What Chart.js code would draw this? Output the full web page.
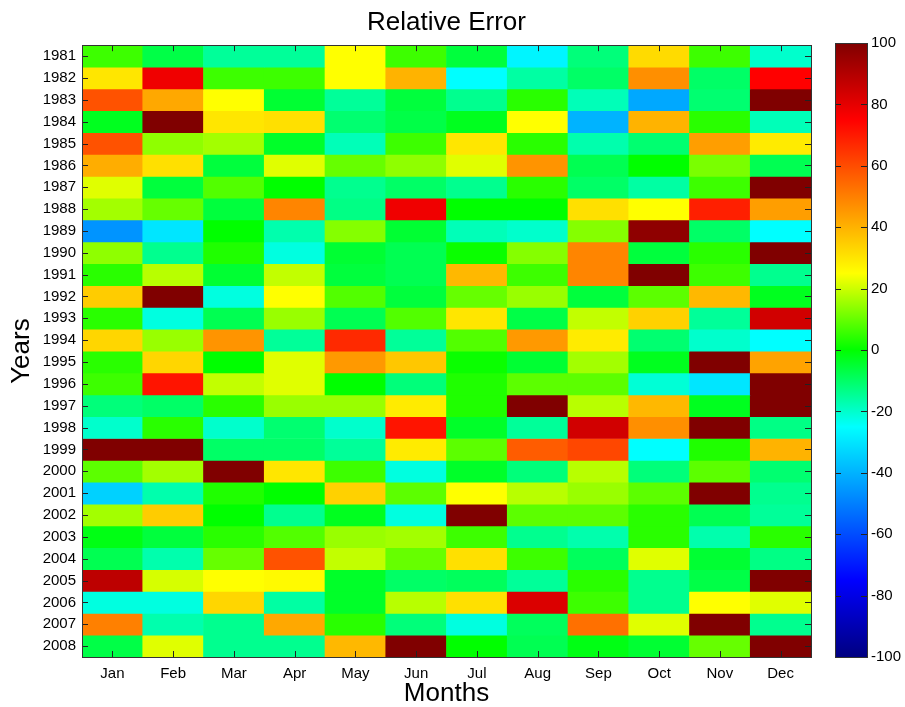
<!DOCTYPE html>
<html>
<head>
<meta charset="utf-8">
<script src="https://cdn.jsdelivr.net/npm/chart.js@4.4.0/dist/chart.umd.min.js"></script>
<style>
  body { margin: 0; background: #fff; }
  #wrap { position: relative; width: 905px; height: 707px; }
  #main { position: absolute; left: 0; top: 0; }
  #cbar { position: absolute; left: 830px; top: 0; }
</style>
</head>
<body>
<div id="wrap">
  <canvas id="main" width="830" height="707"></canvas>
  <canvas id="cbar" width="75" height="707"></canvas>
</div>
<script>
const months = ['Jan','Feb','Mar','Apr','May','Jun','Jul','Aug','Sep','Oct','Nov','Dec'];
const years = [];
for (let y = 1981; y <= 2008; y++) years.push(String(y));

// relative error per year (rows) and month (columns)
const errors = [
  [6,-7,-15,-15,25,6,-6,-27,-12,32,6,-20],      // 1981
  [30,78,6,6,25,40,-25,-16,-10,47,-10,75],      // 1982
  [59,42,25,-5,-15,-6,-14,4,-18,-42,-11,100],   // 1983
  [-3,100,30,31,-11,-7,-3,25,-40,40,4,-18],     // 1984
  [59,14,16,-4,-18,6,30,4,-17,-11,44,29],       // 1985
  [41,31,-6,22,10,14,22,46,-8,0,12,-8],         // 1986
  [22,-6,8,0,-14,-10,-14,4,-10,-16,6,100],      // 1987
  [16,10,-6,49,-13,78,0,0,31,25,69,44],         // 1988
  [-46,-30,0,-17,13,-5,-18,-20,13,97,-10,-25],  // 1989
  [14,-14,3,-22,-5,-8,1,13,49,-6,4,100],        // 1990
  [4,18,-5,19,-6,-8,39,6,49,100,6,-14],         // 1991
  [35,100,-22,25,8,-6,10,15,-6,9,39,-3],        // 1992
  [4,-22,-8,15,-8,8,30,-7,19,34,-15,84],        // 1993
  [33,15,46,-15,67,-15,8,45,29,-11,-20,-25],    // 1994
  [4,33,0,22,45,36,1,-5,16,-3,100,43],          // 1995
  [6,71,19,22,0,-12,3,9,9,-21,-30,100],         // 1996
  [-12,-10,4,15,15,29,3,100,18,39,-3,100],      // 1997
  [-20,4,-20,-11,-20,71,-4,-15,84,47,100,-13],  // 1998
  [100,100,-10,-10,-15,29,9,57,61,-25,3,40],    // 1999
  [9,16,100,30,6,-22,-4,-12,18,-12,9,-11],      // 2000
  [-34,-17,3,0,34,9,25,18,15,9,100,-14],        // 2001
  [16,35,0,-14,-3,-22,100,9,9,4,-8,-15],        // 2002
  [-2,-6,4,8,15,16,6,-14,-17,4,-17,4],          // 2003
  [-8,-17,10,59,19,10,31,6,-9,22,-5,-13],       // 2004
  [88,21,25,26,-4,-10,-9,-15,4,-14,-7,100],     // 2005
  [-22,-22,33,-16,-4,18,31,82,6,-14,25,22],     // 2006
  [50,-17,-14,42,4,-12,-22,-9,53,22,100,-14],   // 2007
  [-7,22,-14,-14,39,100,0,-8,-2,-5,10,100]      // 2008
];

const cbarTicks = [-100,-80,-60,-40,-20,0,20,40,60,80,100];

// jet-like map, green at 0
const cmap = [
  [-100, [0,0,128]],
  [-75,  [0,0,255]],
  [-25,  [0,255,255]],
  [0,    [0,255,0]],
  [25,   [255,255,0]],
  [75,   [255,0,0]],
  [100,  [128,0,0]]
];

function colorFor(v) {
  v = Math.max(-100, Math.min(100, v));
  for (let i = 0; i < cmap.length - 1; i++) {
    const [v0, c0] = cmap[i], [v1, c1] = cmap[i+1];
    if (v <= v1) {
      const t = (v - v0) / (v1 - v0);
      const c = c0.map((a, k) => Math.round(a + (c1[k] - a) * t));
      return 'rgb(' + c.join(',') + ')';
    }
  }
  return 'rgb(128,0,0)';
}

const font = 'Liberation Sans, Arial, Helvetica, sans-serif';

// one dataset per year, floating bar spanning its row
const datasets = years.map((yr, i) => ({
  label: yr,
  data: months.map(() => [i, i + 1]),
  backgroundColor: errors[i].map(colorFor),
  borderWidth: 0,
  grouped: false,
  barPercentage: 1,
  categoryPercentage: 1
}));

const boxPlugin = {
  id: 'box',
  afterDatasetsDraw(chart) {
    const {ctx, chartArea: a, scales} = chart;
    ctx.save();
    ctx.strokeStyle = '#222';
    ctx.lineWidth = 1;
    ctx.beginPath();
    years.forEach((yr, i) => {
      const y = Math.round(scales.y.getPixelForValue(i + 0.5)) + 0.5;
      ctx.moveTo(a.left, y); ctx.lineTo(a.left + 6, y);
      ctx.moveTo(a.right - 6, y); ctx.lineTo(a.right, y);
    });
    months.forEach((m, j) => {
      const x = Math.round(scales.x.getPixelForValue(j)) + 0.5;
      ctx.moveTo(x, a.top); ctx.lineTo(x, a.top + 6);
      ctx.moveTo(x, a.bottom - 6); ctx.lineTo(x, a.bottom);
    });
    ctx.stroke();
    ctx.strokeStyle = '#333';
    ctx.strokeRect(Math.round(a.left) + 0.5, Math.round(a.top) + 0.5,
      Math.round(a.right - a.left), Math.round(a.bottom - a.top));
    ctx.restore();
  }
};

new Chart(document.getElementById('main'), {
  type: 'bar',
  data: { labels: months, datasets: datasets },
  options: {
    responsive: false,
    animation: false,
    layout: { padding: { left: 0, right: 19, top: 0, bottom: 0 } },
    plugins: {
      legend: { display: false },
      tooltip: { enabled: false },
      title: {
        display: true,
        text: 'Relative Error',
        fullSize: false,
        color: '#000',
        font: { family: font, size: 26, weight: 'normal', lineHeight: 1.2 },
        padding: { top: 7, bottom: 7 }
      }
    },
    scales: {
      x: {
        grid: { display: false, drawTicks: false },
        border: { display: false },
        ticks: { color: '#000', font: { family: font, size: 15 }, padding: 8, maxRotation: 0 },
        title: { display: true, text: 'Months', color: '#000', font: { family: font, size: 26, lineHeight: 1 }, padding: { top: 0, bottom: 0 } },
        afterFit(scale) { scale.height = 50; }
      },
      y: {
        min: 0,
        max: 28,
        reverse: true,
        grid: { display: false, drawTicks: false },
        border: { display: false },
        afterBuildTicks(scale) {
          scale.ticks = years.map((yr, i) => ({ value: i + 0.5 }));
        },
        ticks: {
          autoSkip: false,
          color: '#000',
          font: { family: font, size: 15 },
          padding: 6,
          callback: (v) => years[Math.floor(v)]
        },
        title: { display: true, text: 'Years', color: '#000', font: { family: font, size: 26, lineHeight: 1 }, padding: { top: 9, bottom: 0 } },
        afterFit(scale) { scale.width = 82; }
      }
    }
  },
  plugins: [boxPlugin]
});

// colour bar
const cbarPlugin = {
  id: 'cbarBox',
  afterDatasetsDraw(chart) {
    const {ctx, chartArea: a, scales} = chart;
    ctx.save();
    ctx.strokeStyle = '#222';
    ctx.lineWidth = 1;
    ctx.beginPath();
    cbarTicks.forEach(v => {
      const y = Math.round(scales.y.getPixelForValue(v)) + 0.5;
      ctx.moveTo(a.left, y); ctx.lineTo(a.left + 6, y);
      ctx.moveTo(a.right - 6, y); ctx.lineTo(a.right, y);
    });
    ctx.stroke();
    ctx.strokeStyle = '#333';
    ctx.strokeRect(Math.round(a.left) + 0.5, Math.round(a.top) + 0.5,
      Math.round(a.right - a.left), Math.round(a.bottom - a.top));
    ctx.restore();
  }
};

new Chart(document.getElementById('cbar'), {
  type: 'bar',
  data: {
    labels: [''],
    datasets: [{
      data: [[-100, 100]],
      borderWidth: 0,
      barPercentage: 1,
      categoryPercentage: 1,
      backgroundColor(c) {
        const chart = c.chart;
        if (!chart.chartArea) return '#0f0';
        const ys = chart.scales.y;
        const g = chart.ctx.createLinearGradient(0, ys.getPixelForValue(-100), 0, ys.getPixelForValue(100));
        cmap.forEach(([v, col]) => g.addColorStop((v + 100) / 200, 'rgb(' + col.join(',') + ')'));
        return g;
      }
    }]
  },
  options: {
    responsive: false,
    animation: false,
    layout: { padding: { left: 5, right: 0, top: 43, bottom: 50 } },
    plugins: { legend: { display: false }, tooltip: { enabled: false } },
    scales: {
      x: { display: false },
      y: {
        position: 'right',
        min: -100,
        max: 100,
        grid: { display: false, drawTicks: false },
        border: { display: false },
        afterBuildTicks(scale) {
          scale.ticks = cbarTicks.map(v => ({ value: v }));
        },
        ticks: { color: '#000', font: { family: font, size: 15 }, padding: 4, autoSkip: false },
        afterFit(scale) { scale.width = 38; }
      }
    }
  },
  plugins: [cbarPlugin]
});
</script>
</body>
</html>
